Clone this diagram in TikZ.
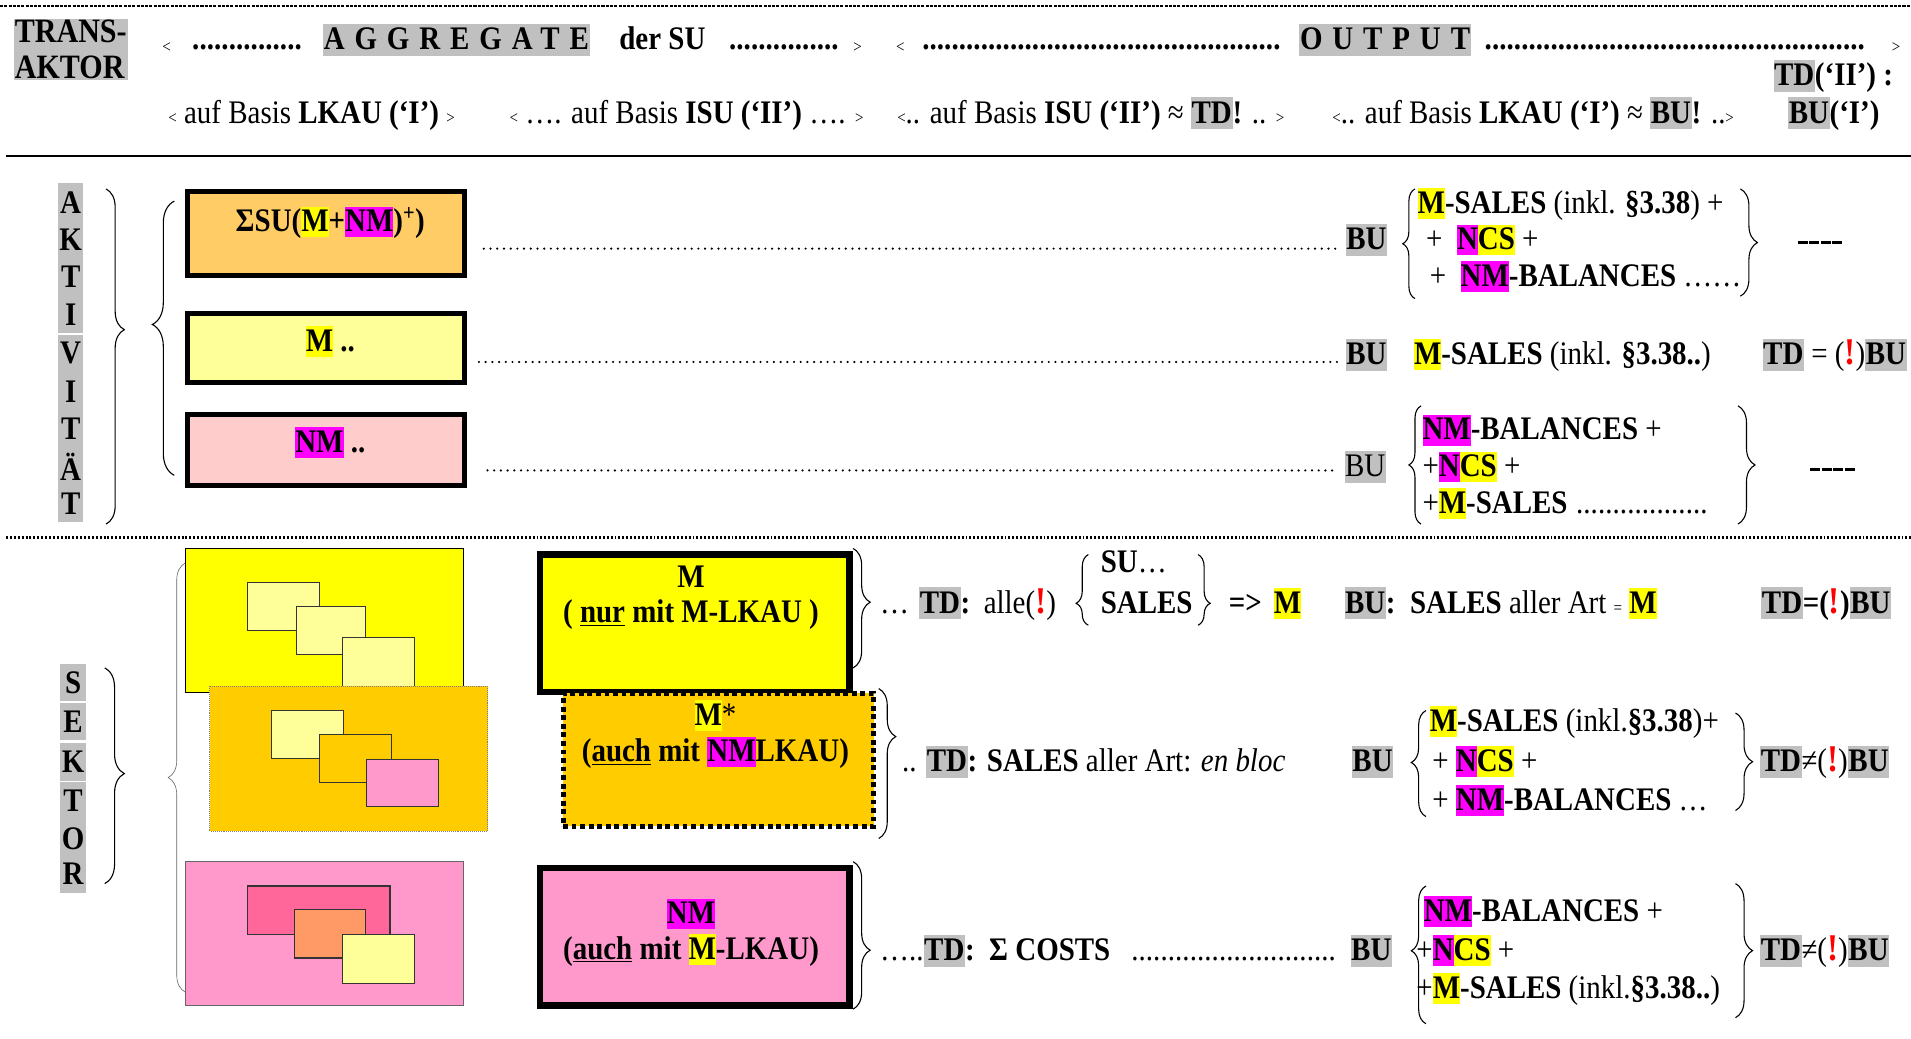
\documentclass[tikz,border=0pt]{standalone}
\usepackage{fontspec}
\setmainfont[FakeStretch=0.88]{Liberation Serif}
\usetikzlibrary{decorations.pathreplacing}
\definecolor{hlgray}{RGB}{192,192,192}
\definecolor{hlyellow}{RGB}{255,255,0}
\definecolor{hlmag}{RGB}{255,0,255}
\definecolor{boxorange}{RGB}{255,204,102}
\definecolor{boxlyellow}{RGB}{255,255,153}
\definecolor{boxlpink}{RGB}{255,204,204}
\definecolor{gold}{RGB}{255,204,0}
\definecolor{pinkbox}{RGB}{255,153,204}
\definecolor{rose}{RGB}{255,102,153}
\definecolor{salmon}{RGB}{255,153,102}
\newcommand\FN{\fontsize{27}{31}\selectfont}
\newcommand\FSm{\fontsize{14}{16}\selectfont}
\newcommand\HS{\rule[-0.17em]{0pt}{0.93em}}
\newcommand\HY[1]{{\setlength\fboxsep{0pt}\colorbox{hlyellow}{\HS#1}}}
\newcommand\HM[1]{{\setlength\fboxsep{0pt}\colorbox{hlmag}{\HS#1}}}
\newcommand\HG[1]{{\setlength\fboxsep{0.5pt}\colorbox{hlgray}{\HS#1}}}
\newcommand\EX{\textcolor{red}{\fontsize{31}{31}\selectfont\textbf{!}}}
\newcommand\DF[1]{\hbox to #1{\cleaders\hbox to 6pt{\hss.\hss}\hfill}}
\newcommand\DSH{\rule[0.22em]{0.3em}{0.09em}\hspace{0.05em}}
\begin{document}
\begin{tikzpicture}[x=1pt,y=-1pt,
  tx/.style={anchor=base west,inner sep=0pt,font=\FN},
  bx/.style={anchor=base west,inner sep=0pt,font=\FN\bfseries},
  cx/.style={anchor=base,inner sep=0pt,font=\FN\bfseries},
  sm/.style={anchor=base west,inner sep=0pt,font=\FSm},
  letterbox/.style={fill=hlgray,inner sep=0pt,minimum width=21pt,minimum height=31pt,font=\FN\bfseries},
  abox/.style={draw,line width=4pt,anchor=north west,inner sep=0pt},
  dotline/.style={line width=2pt,dash pattern=on 0pt off 5.5pt,line cap=round},
  brc/.style={decorate,decoration={brace,amplitude=#1},line width=0.9pt},
  brc/.default=9pt]
\useasboundingbox (0,0) rectangle (1568,852);
% ---------- frame lines
\draw[line width=1.3pt,dash pattern=on 2.5pt off 1pt] (0,5) -- (1568,5);
\draw[line width=2pt] (5,128) -- (1568,128);
\draw[line width=2pt,dash pattern=on 1.6pt off 1.6pt] (5,441) -- (1568,441);
% ---------- header
\node[fill=hlgray,inner sep=1pt,anchor=north west,align=left,font=\fontsize{28}{30}\selectfont\bfseries] (trans) at (11,15) {TRANS-\\AKTOR};
\node[sm] (lt1) at (133,43) {<};
\node[bx] (dd1) at (155,41) {\DF{95pt}};
\node[bx] (agg) at (265,41) {\HG{\addfontfeature{LetterSpace=30}AGGREGATE}};
\node[bx] (dersu) at (508,41) {der SU};
\node[bx] (dd2) at (598,41) {\DF{90pt}};
\node[sm] (gt1) at (700,43) {>};
\node[sm] (lt2) at (735,43) {<};
\node[bx] (dd3) at (755,41) {\DF{297pt}};
\node[bx] (out) at (1066,41) {\HG{\addfontfeature{LetterSpace=30}OUTPUT}};
\node[bx] (dd4) at (1218,41) {\DF{312pt}};
\node[sm] (gt2) at (1552,43) {>};
\node[tx] (h1) at (138,101) {{\FSm<} auf Basis \textbf{LKAU (‘I’)} {\FSm>}};
\node[tx] (h2) at (418,101) {{\FSm<} …. auf Basis \textbf{ISU (‘II’)} …. {\FSm>}};
\node[tx] (h3) at (736,101) {{\FSm<}.. auf Basis \textbf{ISU (‘II’)} ≈ \textbf{\HG{TD}!} .. {\FSm>}};
\node[tx] (h4) at (1093,101) {{\FSm<}.. auf Basis \textbf{LKAU (‘I’)} ≈ \textbf{\HG{BU}!} ..{\FSm>}};
\node[bx] (h5) at (1455,70) {\HG{TD}(‘II’) :};
\node[bx] (h6) at (1467,101) {\HG{BU}(‘I’)};
% ---------- AKTIVITAET
\foreach \L/\y [count=\i] in {A/166,K/197,T/227,I/258,V/290,I/321,T/352,Ä/383,T/413}
  \node[letterbox] (a\i) at (58,\y) {\L};
\draw[brc=15pt,decoration={aspect=0.42}] (87,155) -- (87,430);
\draw[brc=18pt,decoration={aspect=0.55}] (143,390) -- (143,165);
\node[abox,fill=boxorange,minimum width=227pt,minimum height=69pt] (b1) at (152,155) {};
\node[abox,fill=boxlyellow,minimum width=227pt,minimum height=57pt] (b2) at (152,255) {};
\node[abox,fill=boxlpink,minimum width=227pt,minimum height=58pt] (b3) at (152,338) {};
\node[cx] (b1t) at (271,190) {ΣSU(\HY{M}+\HM{NM})\textsuperscript{+})};
\node[cx] (b2t) at (271,288) {\HY{M} ..};
\node[cx] (b3t) at (271,371) {\HM{NM} ..};
\coordinate (d1a) at (397,204); \coordinate (d1b) at (1098,204);
\coordinate (d2a) at (393,297); \coordinate (d2b) at (1097,297);
\coordinate (d3a) at (400,386); \coordinate (d3b) at (1097,386);
\draw[dotline] (d1a) -- (d1b);
\draw[dotline] (d2a) -- (d2b);
\draw[dotline] (d3a) -- (d3b);
% row 1
\node[bx] (bu1) at (1104,205) {\HG{BU}};
\draw[brc=10pt] (1161,245) -- (1161,155);
\node[tx] (l11) at (1163,175) {\HY{\textbf{M}}\textbf{-SALES} (inkl. \textbf{§3.38}) +};
\node[tx] (l12) at (1170,205) {+\ \ \HM{\textbf{N}}\HY{\textbf{CS}} +};
\node[tx] (l13) at (1173,235) {+\ \ \HM{\textbf{NM}}\textbf{-BALANCES} ……};
\draw[brc=14pt] (1428,155) -- (1428,243);
\node[bx] (da1) at (1475,206) {\DSH\DSH\DSH\DSH};
% row 2
\node[bx] (bu2) at (1104,299) {\HG{BU}};
\node[tx] (l21) at (1160,299) {\HY{\textbf{M}}\textbf{-SALES} (inkl. \textbf{§3.38..})};
\node[tx] (td2) at (1446,299) {\HG{\textbf{TD}} = (\EX)\HG{\textbf{BU}}};
% row 3
\node[tx] (bu3) at (1103,391) {\HG{BU}};
\draw[brc=10pt] (1166,430) -- (1166,333);
\node[tx] (l31) at (1167,361) {\HM{\textbf{NM}}\textbf{-BALANCES} +};
\node[tx] (l32) at (1167,391) {+\HM{\textbf{N}}\HY{\textbf{CS}} +};
\node[tx] (l33) at (1167,421) {+\HY{\textbf{M}}\textbf{-SALES} \DF{110pt}};
\draw[brc=14pt] (1426,333) -- (1426,430);
\node[bx] (da3) at (1485,392) {\DSH\DSH\DSH\DSH};
% ---------- SEKTOR
\foreach \L/\y [count=\i] in {S/560,E/592,K/625,T/657,O/688,R/717}
  \node[letterbox] (s\i) at (60,\y) {\L};
\draw[brc=16pt,decoration={aspect=0.49}] (86,548) -- (86,725);
\draw[brc=14pt,decoration={aspect=0.5},line width=0.5pt,black!60] (152,814) -- (152,462);
% left pictures
\filldraw[fill=hlyellow,draw=black,line width=0.8pt] (152,450) rectangle (380,568);
\filldraw[fill=boxlyellow,draw=black!80,line width=0.9pt] (203,478) rectangle (262,517);
\filldraw[fill=boxlyellow,draw=black!80,line width=0.9pt] (243,498) rectangle (300,537);
\filldraw[fill=boxlyellow,draw=black!80,line width=0.9pt] (281,523) rectangle (340,563);
\filldraw[fill=gold,draw=black!50,line width=0.6pt,densely dotted] (172,563) rectangle (400,682);
\filldraw[fill=boxlyellow,draw=black!80,line width=0.9pt] (223,583) rectangle (282,622);
\filldraw[fill=gold,draw=black!80,line width=0.9pt] (262,603) rectangle (321,642);
\filldraw[fill=pinkbox,draw=black!80,line width=0.9pt] (301,623) rectangle (360,662);
\filldraw[fill=pinkbox,draw=black!60,line width=0.8pt] (152,707) rectangle (380,825);
\filldraw[fill=rose,draw=black!80,line width=0.9pt] (203,727) rectangle (320,767);
\filldraw[fill=salmon,draw=black!80,line width=0.9pt] (242,746) rectangle (300,786);
\filldraw[fill=boxlyellow,draw=black!80,line width=0.9pt] (281,767) rectangle (340,807);
% middle boxes
\node[abox,line width=5pt,fill=hlyellow,minimum width=254pt,minimum height=113pt] (mbox) at (440.5,452.5) {};
\node[cx] (mt1) at (567,482) {M};
\node[cx] (mt2) at (567,511) {( \underline{nur} mit M-LKAU )};
\node[abox,line width=4pt,dash pattern=on 4pt off 3pt,fill=gold,minimum width=255pt,minimum height=109pt] (msbox) at (460,567) {};
\node[cx] (mst1) at (587,595) {\HY{M}{\mdseries *}};
\node[cx] (mst2) at (587,625) {(\underline{auch} mit \HM{NM}LKAU)};
\node[abox,line width=5pt,fill=pinkbox,minimum width=254pt,minimum height=113pt] (nmbox) at (440.5,709.5) {};
\node[cx] (nmt1) at (567,758) {\HM{NM}};
\node[cx] (nmt2) at (567,787) {(\underline{auch} mit \HY{M}-LKAU)};
\draw[brc=14pt,decoration={aspect=0.45}] (700,450) -- (700,548);
\draw[brc=14pt,decoration={aspect=0.32}] (721,565) -- (721,688);
\draw[brc=14pt,decoration={aspect=0.6}] (700,707) -- (700,828);
% row M
\node[tx] (rm0) at (722,503) {…};
\node[bx] (rmtd) at (754,503) {\HG{TD}:};
\node[tx] (rmalle) at (807,503) {alle(\EX)};
\draw[brc=10pt,decoration={aspect=0.31}] (893,513) -- (893,455);
\node[bx] (rmsu) at (903,470) {SU\mdseries…};
\node[bx] (rmsales) at (903,503) {SALES};
\draw[brc=10pt,decoration={aspect=0.69}] (983,455) -- (983,513);
\node[bx] (rmarr) at (1008,503) {=>};
\node[bx] (rmm) at (1045,503) {\HY{M}};
\node[bx] (rmbu) at (1103,503) {\HG{BU}:\ \ SALES \mdseries aller Art {\FSm=} \bfseries\HY{M}};
\node[bx] (rmtd2) at (1445,503) {\HG{TD}=(\EX)\HG{BU}};
% row M*
\node[bx] (rs0) at (740,633) {\mdseries.. \bfseries\HG{TD}: SALES \mdseries aller Art: \itshape en bloc};
\node[bx] (rsbu) at (1109,633) {\HG{BU}};
\draw[brc=12pt,decoration={aspect=0.51}] (1170,670) -- (1170,583);
\node[tx] (rs1) at (1173,600) {\HY{\textbf{M}}\textbf{-SALES} (inkl.\textbf{§3.38})+};
\node[tx] (rs2) at (1175,633) {+ \HM{\textbf{N}}\HY{\textbf{CS}} +};
\node[tx] (rs3) at (1175,665) {+ \HM{\textbf{NM}}\textbf{-BALANCES} …};
\draw[brc=14pt] (1424,585) -- (1424,665);
\node[tx] (rstd) at (1444,633) {\HG{\textbf{TD}}≠(\EX)\HG{\textbf{BU}}};
% row NM
\node[tx] (rn0) at (722,788) {…..\textbf{\HG{TD}:\ \ Σ COSTS}};
\node[tx] (rndots) at (927,788) {\DF{170pt}};
\node[bx] (rnbu) at (1108,788) {\HG{BU}};
\draw[brc=12pt,decoration={aspect=0.53}] (1170,840) -- (1170,727);
\node[tx] (rn1) at (1168,756) {\HM{\textbf{NM}}\textbf{-BALANCES} +};
\node[tx] (rn2) at (1162,788) {+\HM{\textbf{N}}\HY{\textbf{CS}} +};
\node[tx] (rn3) at (1162,819) {+\HY{\textbf{M}}\textbf{-SALES} (inkl.\textbf{§3.38..})};
\draw[brc=14pt] (1424,725) -- (1424,835);
\node[tx] (rntd) at (1444,788) {\HG{\textbf{TD}}≠(\EX)\HG{\textbf{BU}}};
\end{tikzpicture}
\end{document}
